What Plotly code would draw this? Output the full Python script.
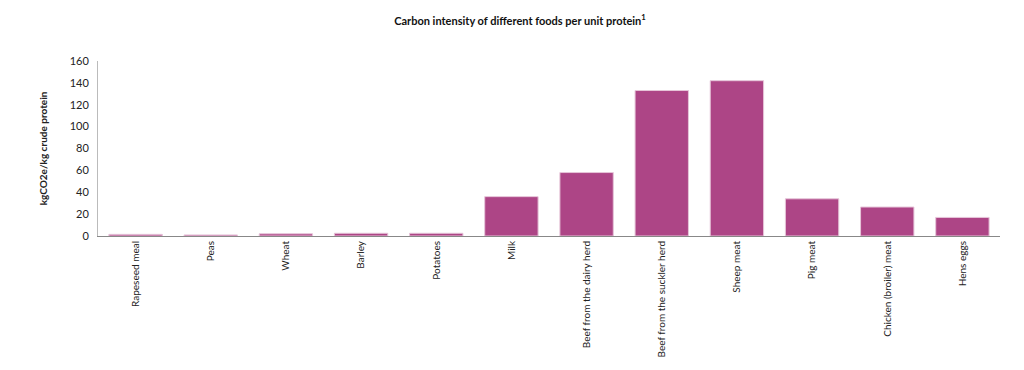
import plotly.graph_objects as go

categories = ["Rapeseed meal", "Peas", "Wheat", "Barley", "Potatoes", "Milk",
              "Beef from the dairy herd", "Beef from the suckler herd", "Sheep meat",
              "Pig meat", "Chicken (broiler) meat", "Hens eggs"]
values = [1.5, 1.0, 2.0, 2.5, 2.5, 36, 58, 133, 142, 34, 26.5, 17]
y_ticks = [0, 20, 40, 60, 80, 100, 120, 140, 160]

fig = go.Figure(go.Bar(
    x=categories, y=values,
    marker=dict(color="#ad4586", line=dict(color="#e6c5d9", width=1)),
))
fig.update_layout(
    width=1024, height=370,
    margin=dict(l=90, r=32, t=53, b=142),
    paper_bgcolor="white", plot_bgcolor="white",
    bargap=0.29,
    font=dict(family="Lato, Open Sans, sans-serif", size=10, color="#222"),
    title=dict(text="<b>Carbon intensity of different foods per unit protein<sup>1</sup></b>",
               x=0.5, xanchor="center", y=0.965, yanchor="middle",
               font=dict(size=11, color="#111")),
    showlegend=False,
)
fig.update_xaxes(tickangle=-90, showline=True, linecolor="#888", linewidth=1,
                 ticks="", showgrid=False, tickfont=dict(size=10), automargin=False)
fig.update_yaxes(range=[0, 160], tickvals=y_ticks, showline=True, linecolor="#bbb",
                 linewidth=1, showgrid=False, ticks="outside", ticklen=6, tickcolor="rgba(0,0,0,0)",
                 zeroline=False, automargin=False,
                 title=dict(text="<b>kgCO2e/kg crude protein</b>", font=dict(size=10), standoff=20),
                 tickfont=dict(size=11))
fig.write_html("out.html")
